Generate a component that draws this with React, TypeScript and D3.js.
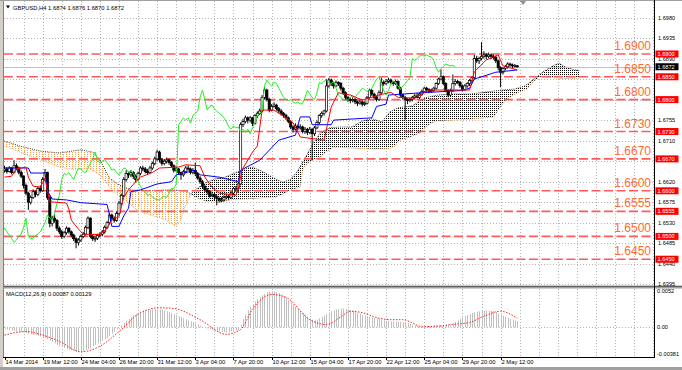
import { useEffect, useRef } from 'react';
import * as d3 from 'd3';

// H4 candles, [open, high, low, close] in pips above 1.6000
const candles: [number, number, number, number][] = [
  [645, 655, 640, 648], [648, 652, 638, 642], [642, 654, 640, 650], [650, 652, 636, 640], [640, 667, 638, 655], [655, 660, 645, 650],
  [650, 653, 636, 640], [640, 645, 628, 632], [632, 634, 605, 612], [612, 616, 590, 595], [595, 598, 558, 575], [575, 590, 570, 585],
  [585, 603, 582, 598], [598, 601, 586, 592], [592, 610, 588, 605], [605, 612, 596, 600], [600, 630, 598, 625], [625, 648, 620, 640],
  [640, 642, 580, 585], [585, 590, 520, 528], [528, 545, 522, 540], [540, 548, 530, 535], [535, 538, 512, 518], [518, 522, 505, 510],
  [510, 514, 495, 500], [500, 512, 496, 508], [508, 522, 504, 518], [518, 520, 506, 510], [510, 513, 498, 503], [503, 506, 490, 495],
  [495, 498, 474, 487], [487, 496, 480, 492], [492, 504, 488, 500], [500, 510, 496, 505], [505, 524, 502, 520], [520, 544, 516, 540],
  [540, 542, 496, 500], [500, 504, 490, 495], [495, 500, 488, 496], [496, 506, 492, 502], [502, 509, 498, 505], [505, 514, 500, 510],
  [510, 524, 506, 520], [520, 534, 516, 530], [530, 551, 526, 547], [547, 550, 536, 540], [540, 544, 530, 535], [535, 555, 532, 550],
  [550, 578, 546, 573], [573, 594, 568, 590], [590, 630, 586, 625], [625, 645, 620, 638], [638, 642, 628, 635], [635, 646, 630, 640],
  [640, 643, 626, 632], [632, 636, 618, 625], [625, 642, 622, 638], [638, 654, 634, 650], [650, 655, 643, 648], [648, 652, 638, 642],
  [642, 648, 635, 640], [640, 655, 637, 650], [650, 664, 646, 660], [660, 675, 656, 670], [670, 690, 666, 685], [685, 688, 662, 668],
  [668, 672, 655, 660], [660, 670, 656, 665], [665, 673, 660, 668], [668, 670, 657, 662], [662, 665, 650, 655], [655, 658, 640, 645],
  [645, 652, 641, 648], [648, 650, 635, 640], [640, 642, 624, 635], [635, 646, 631, 642], [642, 655, 638, 650], [650, 656, 644, 648],
  [648, 651, 636, 640], [640, 650, 636, 645], [645, 662, 632, 638], [638, 641, 624, 628], [628, 632, 615, 620], [620, 624, 606, 610],
  [610, 613, 598, 602], [602, 606, 592, 598], [598, 601, 585, 590], [590, 597, 586, 592], [592, 595, 580, 587], [587, 591, 568, 583],
  [583, 587, 574, 580], [580, 586, 575, 580], [580, 590, 576, 585], [585, 594, 581, 588], [588, 591, 580, 585], [585, 599, 582, 595],
  [595, 608, 591, 605], [605, 610, 598, 605], [605, 618, 596, 615], [615, 750, 612, 745], [745, 758, 740, 752], [752, 765, 748, 760],
  [760, 763, 748, 755], [755, 764, 750, 760], [760, 762, 742, 748], [748, 768, 745, 765], [765, 774, 760, 770], [770, 780, 766, 775],
  [775, 810, 772, 805], [805, 828, 800, 821], [821, 824, 796, 800], [800, 804, 772, 777], [777, 790, 774, 785], [785, 794, 782, 788],
  [788, 791, 776, 780], [780, 784, 770, 775], [775, 779, 765, 770], [770, 773, 760, 766], [766, 769, 755, 760], [760, 763, 748, 752],
  [752, 755, 735, 740], [740, 744, 728, 735], [735, 748, 732, 742], [742, 745, 733, 738], [738, 746, 734, 740], [740, 743, 726, 730],
  [730, 740, 725, 735], [735, 738, 722, 728], [728, 740, 724, 735], [735, 738, 667, 725], [725, 742, 720, 738], [738, 754, 735, 750],
  [750, 768, 746, 765], [765, 774, 760, 770], [770, 778, 765, 775], [775, 845, 772, 830], [830, 848, 826, 843], [843, 846, 830, 835],
  [835, 838, 824, 830], [830, 842, 827, 838], [838, 840, 830, 836], [836, 838, 820, 825], [825, 828, 810, 815], [815, 818, 800, 805],
  [805, 808, 795, 800], [800, 804, 792, 798], [798, 805, 794, 800], [800, 803, 790, 795], [795, 798, 786, 792], [792, 800, 789, 795],
  [795, 798, 785, 790], [790, 796, 786, 792], [792, 808, 789, 805], [805, 824, 802, 820], [820, 823, 808, 812], [812, 815, 801, 805],
  [805, 808, 796, 800], [800, 820, 797, 815], [815, 848, 812, 838], [838, 842, 830, 835], [835, 845, 832, 840], [840, 848, 836, 843],
  [843, 846, 833, 838], [838, 841, 830, 835], [835, 844, 832, 840], [840, 842, 822, 825], [825, 828, 806, 810], [810, 813, 800, 805],
  [805, 808, 756, 800], [800, 803, 790, 798], [798, 804, 794, 800], [800, 808, 796, 805], [805, 812, 800, 808], [808, 815, 803, 805],
  [805, 816, 801, 812], [812, 822, 808, 818], [818, 828, 815, 825], [825, 828, 818, 822], [822, 825, 814, 818], [818, 824, 815, 820],
  [820, 828, 817, 825], [825, 838, 822, 835], [835, 848, 832, 845], [845, 866, 842, 850], [850, 853, 832, 835], [835, 838, 816, 820],
  [820, 823, 805, 810], [810, 824, 807, 820], [820, 855, 817, 835], [835, 845, 831, 840], [840, 843, 834, 838], [838, 841, 826, 830],
  [830, 833, 818, 822], [822, 834, 819, 830], [830, 838, 826, 835], [835, 845, 830, 842], [842, 850, 838, 848], [848, 898, 845, 890],
  [890, 896, 880, 885], [885, 894, 878, 890], [890, 926, 886, 895], [895, 906, 890, 898], [898, 902, 888, 895], [895, 903, 891, 898],
  [898, 901, 889, 895], [895, 899, 888, 893], [893, 896, 880, 885], [885, 888, 864, 870], [870, 873, 827, 860], [860, 871, 855, 868],
  [868, 876, 864, 872], [872, 882, 868, 878], [878, 881, 872, 876], [876, 879, 869, 874], [874, 878, 870, 875], [874, 876, 870, 872],
];

// ichimoku lines, [bar, pips]
const tenkan: [number, number][] = [
  [0, 630], [3, 632], [5, 648], [9, 652], [10, 630], [12, 610], [15, 608], [17, 628], [18, 600], [19, 576], [26, 573], [27, 560],
  [28, 536], [31, 516], [33, 505], [40, 504], [43, 518], [45, 536], [48, 543], [50, 586], [52, 602], [55, 620], [57, 630], [62, 640],
  [65, 650], [73, 652], [76, 657], [82, 655], [84, 630], [87, 608], [90, 595], [97, 590], [98, 604], [99.6, 646], [104, 685], [106, 698],
  [108, 777], [113, 777], [118, 760], [121, 749], [124, 718], [134, 711], [137, 784], [140, 815], [145, 810], [150, 799], [157, 810],
  [162, 816], [165, 805], [172, 803], [178, 821], [195, 821], [197, 861], [202, 887], [207, 898], [209, 874], [215, 865],
];
const kijun: [number, number][] = [
  [0, 650], [10, 650], [11, 639], [17, 639], [18, 600], [20, 582], [26, 580], [32, 574], [43, 570], [44, 548], [45, 522], [48, 522],
  [50, 545], [52, 562], [53, 598], [57, 602], [64, 615], [70, 620], [72, 635], [80, 645], [82, 635], [90, 630], [98, 620], [99, 645],
  [107, 667], [115, 711], [122, 722], [124, 762], [128, 762], [129, 745], [137, 745], [138, 755], [154, 760], [156, 785], [160, 790],
  [161, 810], [175, 815], [192, 820], [195, 825], [197, 845], [206, 860], [215, 865],
];
const spanA: [number, number][] = [
  [0, 698], [6.5, 685], [15, 668], [23, 652], [30, 646], [35, 650], [40, 635], [45, 602], [50.5, 580], [55.6, 558], [61, 547],
  [67, 538], [71.5, 523], [73.6, 532], [76, 569], [78.2, 593], [79.9, 602], [84.1, 617], [88.3, 626], [92.5, 630], [96.6, 639],
  [100.8, 648], [103.8, 652], [108, 643], [112.2, 630], [116.4, 619], [119.7, 624], [122.6, 641], [126, 672], [129, 700], [132.3, 727],
  [136.5, 738], [140.7, 740], [145.7, 740], [149.9, 753], [154.1, 758], [158.3, 751], [161.6, 773], [165, 782], [170.9, 786],
  [176.3, 804], [181.8, 810], [188.9, 812], [195.2, 812], [202.7, 817], [208.6, 821], [214, 823], [218.2, 830], [223.3, 850],
  [225.8, 861], [230, 874], [232.5, 880], [235, 872], [239.2, 865], [241, 864],
];
const spanB: [number, number][] = [
  [0, 709], [6.5, 698], [15, 687], [23, 683], [32, 690], [37, 685], [40, 668], [44, 628], [48, 613], [53, 602], [61, 600], [69, 602],
  [76, 600], [78.2, 593], [79.9, 586], [84.1, 578], [88.3, 575], [94.6, 580], [100.8, 582], [107.1, 584], [113.4, 586], [116.8, 593],
  [119.7, 602], [123.9, 608], [125.2, 650], [128.1, 665], [132.3, 674], [135.2, 687], [138.2, 696], [144.9, 694], [153.3, 692],
  [160.8, 692], [163.7, 698], [165.8, 711], [170, 718], [174.2, 727], [177.1, 742], [180.5, 753], [188.9, 755], [197.3, 758],
  [205.2, 762], [207.8, 784], [210.3, 799], [214, 812], [219, 823], [221.6, 839], [224.5, 850], [232.9, 847], [241, 847],
];
const kumoCross = 78.2;

// MACD(12,26,9) main, 1e-5 units, one per bar
const macdMain = [
  -20, -30, -40, -45, -50, -60, -65,
  -70, -75, -80, -90, -100, -110, -115, -120, -130,
  -140, -150, -170, -190, -210, -230, -250, -265, -280, -295, -310, -320, -330, -340, -350, -355, -360,
  -345, -330, -310, -290, -270, -250, -230, -210, -190, -170, -150, -120, -90, -60,
  -30, 0, 30, 60,
  90, 120, 150, 175, 195, 210, 225, 235, 245, 250, 255, 258, 260, 260,
  255, 250, 240, 230, 220, 205, 190, 175, 160, 145, 130, 115, 100, 85, 70, 55, 40, 25, 10,
  -5, -15, -25, -35, -45, -55, -60, -65, -70, -70, -65, -60, -55, -50, -40,
  40, 120, 180, 240, 290, 330, 370, 400, 430, 460, 480, 500, 510, 520, 515,
  505, 490, 470, 450, 420, 390, 360, 330, 300, 270, 240, 210, 180, 155, 130, 110,
  100, 110, 130, 150, 170, 190, 210, 230, 245, 255, 265, 270, 270, 265, 260, 250,
  240, 225, 210, 195, 180, 170, 160, 150, 140, 135, 130,
  120, 110, 100, 95, 90, 85, 85, 80, 80, 80, 75, 70, 60,
  50, 40, 30, 20, 15, 10,
  10, 15, 20, 20, 25, 25, 30, 30, 30, 35, 35, 40,
  60, 80, 100, 120, 140, 160, 175, 190, 205, 215, 225, 230, 235,
  240, 240, 238, 235, 230, 220,
  200, 180, 165, 150, 135, 120, 108, 97, 87,
];
const macdSignal: [number, number][] = [
  [0, -110], [9, -60], [15, -100], [23, -200], [32, -350], [40, -270], [48, -60], [57, 210], [65, 280], [71, 270], [82, 110],
  [93, -100], [99, -30], [104, 260], [112, 470], [118, 430], [128, 110], [135, 40], [141, 150], [145, 230], [150, 210], [156, 140],
  [162, 110], [167, 110], [170, 80], [175, 10], [183, 20], [187, 40], [195, 70], [201, 160], [208, 230], [215, 129],
];

const timeLabels = [
  '14 Mar 2014', '19 Mar 12:00', '24 Mar 04:00', '26 Mar 20:00', '31 Mar 12:00', '3 Apr 04:00', '7 Apr 20:00',
  '10 Apr 12:00', '15 Apr 04:00', '17 Apr 20:00', '22 Apr 12:00', '25 Apr 04:00', '29 Apr 20:00', '2 May 12:00',
];
const priceTicks = [1.698, 1.6935, 1.689, 1.6845, 1.68, 1.6755, 1.671, 1.6665, 1.662, 1.6575, 1.653, 1.6485, 1.644, 1.6395];
// tick captions that are not hidden behind the level tags on the scale
const priceTickLabels = [1.698, 1.6935, 1.689, 1.6755, 1.671, 1.662, 1.6575, 1.653, 1.6485, 1.644, 1.6395];
const levels = [1.69, 1.685, 1.68, 1.673, 1.667, 1.66, 1.6555, 1.65, 1.645];
const bid = 1.6872;
const macdTicks = [0.0052, 0, -0.00381];

const toPrice = (v: number) => 1.6 + v / 10000;

const App = () => {
  const svgRef = useRef<SVGSVGElement>(null);

  useEffect(() => {
    if (!svgRef.current) return;
    const svg = d3.select(svgRef.current);
    svg.selectAll('*').remove();

    const font = 'Liberation Sans, Arial, sans-serif';
    const left = 4, right = 654, mainTop = 1, mainBottom = 285.5, subTop = 289, subBottom = 357;

    const x = d3.scaleLinear().domain([0, 100]).range([4.5, 4.5 + 238.5]);
    const y = d3.scaleLinear().domain([1.6395, 1.698]).range([284.3, 17.5]);
    const ym = d3.scaleLinear().domain([-0.00381, 0.0052]).range([354, 291]);

    const defs = svg.append('defs');
    defs.append('clipPath').attr('id', 'clipMain').append('rect')
      .attr('x', left).attr('y', mainTop).attr('width', right - left).attr('height', mainBottom - mainTop);
    defs.append('clipPath').attr('id', 'clipSub').append('rect')
      .attr('x', left).attr('y', subTop).attr('width', right - left).attr('height', subBottom - subTop);
    const pat = (id: string, color: string, w: number) => {
      const p = defs.append('pattern').attr('id', id).attr('width', w).attr('height', 2)
        .attr('patternUnits', 'userSpaceOnUse');
      p.append('rect').attr('width', 1).attr('height', 1).attr('fill', color);
    };
    pat('dotOrange', '#f5a04a', 3);
    pat('dotBlack', '#000', 2);

    svg.append('rect').attr('width', 682).attr('height', 370).attr('fill', '#fff');

    const main = svg.append('g').attr('clip-path', 'url(#clipMain)');
    const sub = svg.append('g').attr('clip-path', 'url(#clipSub)');

    // grid
    for (let i = 8; x(i) < right; i += 8) {
      const xx = Math.round(x(i)) + 0.5;
      main.append('line').attr('x1', xx).attr('x2', xx).attr('y1', mainTop).attr('y2', mainBottom)
        .attr('stroke', '#b4b4b4').attr('stroke-dasharray', '1,2');
      sub.append('line').attr('x1', xx).attr('x2', xx).attr('y1', subTop).attr('y2', subBottom)
        .attr('stroke', '#b4b4b4').attr('stroke-dasharray', '1,2');
    }
    priceTicks.forEach(p => {
      const yy = Math.round(y(p)) + 0.5;
      main.append('line').attr('x1', left).attr('x2', right).attr('y1', yy).attr('y2', yy)
        .attr('stroke', '#b4b4b4').attr('stroke-dasharray', '1,2');
    });
    sub.append('line').attr('x1', left).attr('x2', right)
      .attr('y1', Math.round(ym(0)) + 0.5).attr('y2', Math.round(ym(0)) + 0.5)
      .attr('stroke', '#b4b4b4').attr('stroke-dasharray', '1,2');

    // kumo
    const line = d3.line<[number, number]>().x(d => x(d[0])).y(d => y(toPrice(d[1])));
    const bLeft = spanB.filter(d => d[0] <= kumoCross);
    const aLeft = spanA.filter(d => d[0] <= kumoCross);
    const aRight = spanA.filter(d => d[0] >= kumoCross);
    const bRight = spanB.filter(d => d[0] >= kumoCross);
    main.append('path').attr('d', line([...bLeft, ...aLeft.slice().reverse()]) + 'Z').attr('fill', 'url(#dotOrange)');
    main.append('path').attr('d', line([...aRight, ...bRight.slice().reverse()]) + 'Z').attr('fill', 'url(#dotBlack)');
    main.append('path').attr('d', line([...bLeft, ...aRight.slice(1)])).attr('fill', 'none')
      .attr('stroke', '#222').attr('stroke-width', 0.9).attr('stroke-dasharray', '1,1.2');
    main.append('path').attr('d', line([...aLeft, ...bRight.slice(1)])).attr('fill', 'none')
      .attr('stroke', '#f29a3a').attr('stroke-width', 0.9).attr('stroke-dasharray', '1,1.2');

    // horizontal levels
    levels.forEach(p => {
      main.append('line').attr('x1', left).attr('x2', right).attr('y1', y(p)).attr('y2', y(p))
        .attr('stroke', '#ff5a5a').attr('stroke-width', 1.6).attr('stroke-dasharray', '9,3.5');
    });
    main.append('line').attr('x1', left).attr('x2', right)
      .attr('y1', Math.round(y(bid)) + 0.5).attr('y2', Math.round(y(bid)) + 0.5)
      .attr('stroke', '#c0c0c0');

    // candles
    candles.forEach((c, i) => {
      const [o, h, l, cl] = c.map(toPrice);
      const xx = x(i);
      main.append('line').attr('x1', xx).attr('x2', xx).attr('y1', y(h)).attr('y2', y(l))
        .attr('stroke', '#000').attr('stroke-width', 1);
      const top = y(Math.max(o, cl));
      const hgt = Math.max(1, Math.abs(y(o) - y(cl)));
      main.append('rect').attr('x', xx - 1.1).attr('y', top).attr('width', 2.2).attr('height', hgt)
        .attr('fill', cl >= o ? '#fff' : '#000').attr('stroke', '#000').attr('stroke-width', 0.7);
    });

    // ichimoku lines
    const chikou: [number, number][] = candles.map((c, i) => [i - 26, c[3]]);
    main.append('path').attr('d', line(chikou)).attr('fill', 'none').attr('stroke', '#22ee22').attr('stroke-width', 1);
    main.append('path').attr('d', line(kijun)).attr('fill', 'none').attr('stroke', '#0000ff').attr('stroke-width', 1);
    main.append('path').attr('d', line(tenkan)).attr('fill', 'none').attr('stroke', '#ff0000').attr('stroke-width', 1);

    // level captions
    levels.forEach(p => {
      svg.append('text').attr('x', 651).attr('y', y(p) - 4).attr('text-anchor', 'end')
        .attr('font-family', font).attr('font-size', 12).attr('fill', '#ff6a30').text(p.toFixed(4));
    });

    // MACD
    macdMain.forEach((v, i) => {
      const xx = Math.round(x(i)) + 0.5;
      sub.append('line').attr('x1', xx).attr('x2', xx).attr('y1', ym(0)).attr('y2', ym(v / 100000))
        .attr('stroke', '#c0c0c0').attr('stroke-width', 1);
    });
    const sigLine = d3.line<[number, number]>().x(d => x(d[0])).y(d => ym(d[1] / 100000)).curve(d3.curveMonotoneX);
    sub.append('path').attr('d', sigLine(macdSignal)).attr('fill', 'none').attr('stroke', '#ff2020')
      .attr('stroke-width', 1).attr('stroke-dasharray', '1.5,1.5');

    // frame
    svg.append('rect').attr('x', 0).attr('y', 0).attr('width', 3).attr('height', 370).attr('fill', '#d4d0c8');
    svg.append('line').attr('x1', 3.5).attr('x2', 3.5).attr('y1', 0).attr('y2', subBottom).attr('stroke', '#808080');
    svg.append('line').attr('x1', 0).attr('x2', 682).attr('y1', 0.5).attr('y2', 0.5).attr('stroke', '#a0a0a0');
    svg.append('rect').attr('x', 3).attr('y', 285.5).attr('width', 679).attr('height', 3).attr('fill', '#a0a0a0');
    svg.append('line').attr('x1', 3).attr('x2', 682).attr('y1', 286.5).attr('y2', 286.5).attr('stroke', '#606060');
    svg.append('line').attr('x1', right + 0.5).attr('x2', right + 0.5).attr('y1', 0).attr('y2', subBottom).attr('stroke', '#000');
    svg.append('line').attr('x1', 3).attr('x2', right + 1).attr('y1', subBottom + 0.5).attr('y2', subBottom + 0.5).attr('stroke', '#000');
    svg.append('rect').attr('x', 0).attr('y', 367).attr('width', 682).attr('height', 3).attr('fill', '#a0a0a0');
    svg.append('path').attr('d', 'M520,1 L526,1 L523,5 Z').attr('fill', '#909090');

    // price axis
    priceTickLabels.forEach(p => {
      svg.append('text').attr('x', 658).attr('y', y(p) + 2).attr('font-family', font).attr('font-size', 5.6)
        .attr('fill', '#000').text(p.toFixed(4));
    });
    levels.forEach(p => {
      svg.append('rect').attr('x', 655.5).attr('y', y(p) - 3.5).attr('width', 23).attr('height', 7).attr('fill', '#ff0000');
      svg.append('text').attr('x', 657.5).attr('y', y(p) + 2).attr('font-family', font).attr('font-size', 5.6)
        .attr('fill', '#fff').text(p.toFixed(4));
    });
    svg.append('rect').attr('x', 655.5).attr('y', y(bid) - 3.5).attr('width', 23).attr('height', 7).attr('fill', '#000');
    svg.append('text').attr('x', 657.5).attr('y', y(bid) + 2).attr('font-family', font).attr('font-size', 5.6)
      .attr('fill', '#fff').text(bid.toFixed(4));
    macdTicks.forEach((v, k) => {
      svg.append('text').attr('x', 657).attr('y', ym(v) + 2).attr('font-family', font).attr('font-size', 5.6)
        .attr('fill', '#000').text(k === 1 ? '0.00' : v.toString());
    });

    // time axis
    timeLabels.forEach((t, k) => {
      const xx = Math.round(x(k * 16)) + 0.5;
      svg.append('line').attr('x1', xx).attr('x2', xx).attr('y1', subBottom).attr('y2', subBottom + 3).attr('stroke', '#000');
      svg.append('text').attr('x', xx).attr('y', 364).attr('font-family', font).attr('font-size', 5.8)
        .attr('fill', '#000').text(t);
    });

    // titles
    svg.append('path').attr('d', 'M6,5.5 L10,5.5 L8,8.5 Z').attr('fill', '#000');
    svg.append('text').attr('x', 13).attr('y', 9.5).attr('font-family', font).attr('font-size', 5.8)
      .attr('fill', '#000').text('GBPUSD,H4  1.6874 1.6876 1.6870 1.6872');
    svg.append('text').attr('x', 6).attr('y', 295.5).attr('font-family', font).attr('font-size', 5.8)
      .attr('fill', '#000').text('MACD(12,26,9) 0.00087 0.00129');
  }, []);

  return (
    <svg
      ref={svgRef}
      width="682"
      height="370"
      style={{ position: 'absolute', left: 0, top: 0, display: 'block' }}
    />
  );
};

export default App;
